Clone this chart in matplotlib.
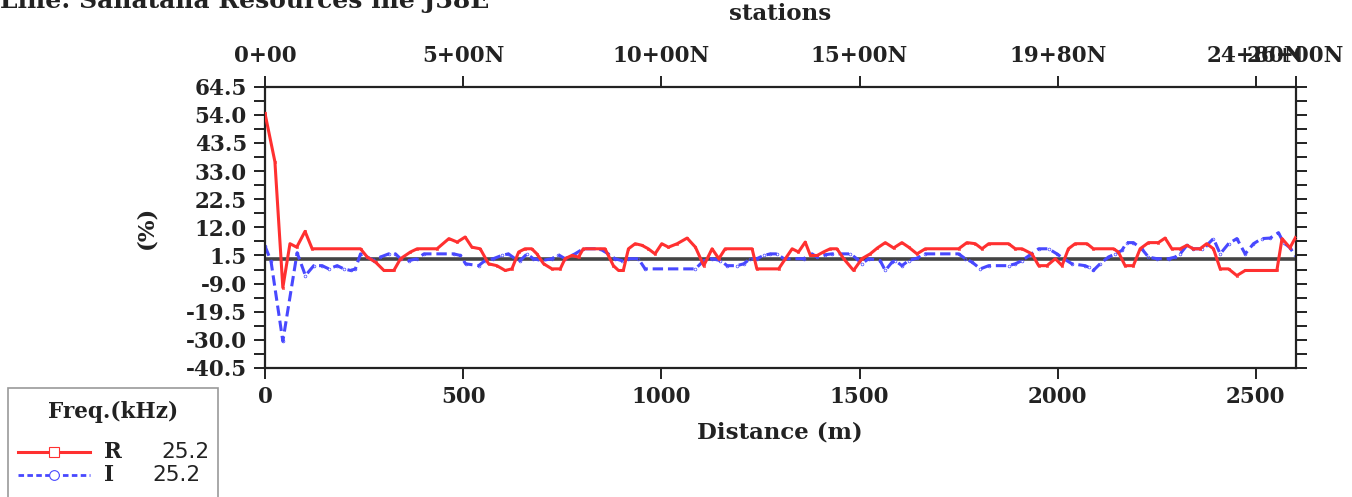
import numpy as np
import matplotlib
matplotlib.use("Agg")
import matplotlib.pyplot as plt
from matplotlib.lines import Line2D
from matplotlib.patches import Rectangle

plt.rcParams["font.family"] = "DejaVu Serif"
plt.rcParams["font.weight"] = "bold"
plt.rcParams["axes.labelweight"] = "bold"

# Survey line readings, 25.2 kHz
dist_r = [0, 25, 45, 63, 80, 101, 119, 241, 258, 279, 300, 325, 342, 367, 384, 434,
          464, 485, 505, 522, 543, 564, 585, 606, 623, 640, 656, 673, 686, 703, 724,
          745, 757, 774, 791, 803, 858, 879, 892, 904, 917, 934, 951, 967, 984, 1001,
          1018, 1040, 1065, 1086, 1107, 1128, 1145, 1161, 1229, 1241, 1296, 1313, 1330,
          1346, 1363, 1376, 1393, 1409, 1426, 1443, 1460, 1485, 1506, 1527, 1545, 1565,
          1586, 1607, 1624, 1645, 1666, 1750, 1771, 1792, 1809, 1826, 1876, 1893, 1910,
          1935, 1952, 1973, 1994, 2011, 2027, 2044, 2074, 2090, 2141, 2153, 2170, 2191,
          2208, 2229, 2254, 2271, 2288, 2309, 2326, 2342, 2359, 2376, 2393, 2410, 2431,
          2452, 2473, 2553, 2566, 2586, 2600]
real_r = [54.5, 36.5, -10.5, 5.9, 4.6, 10.5, 4.0, 4.0, 0.9, -1.0, -4.1, -4.1, 0.3, 2.8, 4.0, 4.0,
          7.8, 6.5, 8.4, 4.6, 4.0, -1.6, -2.3, -4.1, -3.5, 2.8, 4.0, 4.0, 2.1, -1.6, -3.5,
          -3.5, 0.3, 1.5, 0.9, 4.0, 4.0, -2.3, -4.1, -4.1, 4.0, 5.9, 5.3, 4.0, 2.1, 5.9,
          4.6, 5.9, 8.0, 4.6, -2.3, 4.0, 0.3, 4.0, 4.0, -3.5, -3.5, 0.3, 4.0,
          2.8, 6.5, 1.5, 1.5, 2.8, 4.0, 4.0, 0.3, -4.1, 0.3, 2.1, 4.3, 6.3,
          4.3, 6.3, 4.6, 2.1, 4.0, 4.0, 6.3, 5.9, 4.0, 5.9, 5.9, 4.0, 4.0,
          2.1, -2.3, -2.3, 0.3, -2.3, 4.0, 5.9, 5.9, 4.0, 4.0, 2.8, -2.3, -2.3,
          4.0, 6.3, 6.3, 8.0, 4.0, 4.0, 5.3, 4.0, 4.0, 5.9, 4.0, -3.5, -3.5,
          -6.0, -4.1, -4.1, 7.8, 4.4, 8.2]

dist_i = [0, 15, 45, 81, 102, 123, 144, 161, 182, 199, 216, 228, 241, 258, 275, 291, 312,
          329, 342, 363, 384, 401, 476, 493, 506, 539, 555, 576, 597, 614, 631, 644, 661,
          677, 698, 724, 740, 757, 782, 803, 845, 866, 883, 900, 917, 942, 959, 1086,
          1107, 1128, 1149, 1166, 1191, 1208, 1224, 1241, 1258, 1275, 1292, 1309, 1359,
          1380, 1393, 1414, 1430, 1477, 1493, 1506, 1523, 1552, 1565, 1582, 1590, 1607,
          1624, 1645, 1666, 1750, 1767, 1784, 1805, 1826, 1876, 1893, 1910, 1931, 1952,
          1977, 1998, 2015, 2036, 2069, 2078, 2090, 2107, 2128, 2145, 2162, 2174, 2191,
          2212, 2229, 2250, 2280, 2296, 2309, 2326, 2342, 2364, 2376, 2393, 2410, 2431,
          2452, 2473, 2494, 2515, 2536, 2557, 2570, 2586, 2600]
imag_i = [5.0, -0.5, -30.5, 2.5, -6.0, -2.3, -2.3, -3.5, -2.3, -3.5, -4.1, -3.5, 2.1, 0.9, -0.4, 0.9, 2.1,
          2.1, 0.3, -0.4, 0.3, 2.1, 2.1, 1.5, -1.6, -2.3, -0.4, 0.3, 1.5, 2.1, 0.3, -0.4, 2.1,
          0.3, -0.4, 0.3, 1.8, 0.3, 2.1, 4.0, 4.0, 2.1, 0.3, -0.4, 0.3, 0.3, -3.5, -3.5,
          -0.4, 0.3, -0.4, -2.3, -2.3, -1.6, 0.3, 0.3, 1.5, 2.1, 2.1, 0.3, 0.3,
          2.1, 0.9, 1.8, 2.1, 2.1, 0.3, -1.6, 0.3, -0.4, -4.1, -1.0, -0.4, -2.3,
          -0.4, 0.5, 2.1, 2.1, 0.3, -1.0, -3.5, -2.3, -2.3, -1.6, -0.4, 1.8, 4.0,
          4.0, 2.1, 0.3, -1.6, -2.3, -2.9, -4.1, -1.6, 0.9, 2.1, 3.4, 6.3, 6.3,
          4.0, 0.9, 0.3, 0.3, 0.9, 2.1, 5.3, 4.0, 4.0, 5.3, 7.8, 2.1, 5.9,
          7.8, 2.1, 5.9, 7.8, 8.0, 10.0, 6.3, 4.4, 1.3]

station_pos = [0, 500, 1000, 1500, 2000, 2500, 2600]
station_labels = ["0+00", "5+00N", "10+00N", "15+00N", "19+80N", "24+80N", "26+00N"]
dist_ticks = [0, 500, 1000, 1500, 2000, 2500]
pct_ticks = [64.5, 54.0, 43.5, 33.0, 22.5, 12.0, 1.5, -9.0, -19.5, -30.0, -40.5]
freq_khz = 25.2

W, H = 1352, 497
fig = plt.figure(figsize=(W / 100, H / 100), dpi=100)


def fx(x):
    return x / W


def fy(y):
    return 1 - y / H


ax = fig.add_axes([fx(265), fy(368), fx(1295.5) - fx(265), fy(86.7) - fy(368)])

red = "#ff3030"
blue = "#4848ff"
ink = "#222222"

ax.axhline(0, color="#444444", lw=2.6, zorder=1)
ax.plot(dist_i, imag_i, color=blue, lw=2.2, ls=(0, (3.4, 1.6)), marker="o", ms=2,
        mfc="none", mec=blue, mew=0.5, zorder=2)
ax.plot(dist_r, real_r, color=red, lw=2.2, marker="s", ms=2, mfc="none", mec=red,
        mew=0.5, zorder=3)

ax.set_xlim(0, 2600)
ax.set_ylim(-40.5, 64.5)
ax.set_xticks(dist_ticks)
ax.set_yticks(pct_ticks)
ax.set_yticklabels([f"{v:.1f}" for v in pct_ticks])
ax.set_yticks(np.arange(-40.5, 64.6, 5.25), minor=True)
ax.tick_params(axis="both", which="both", direction="out", length=8, width=1.4,
               color=ink, labelsize=15.5, labelcolor=ink, pad=5)
ax.tick_params(axis="y", which="both", right=True)
for sp in ax.spines.values():
    sp.set_linewidth(1.6)
    sp.set_color(ink)

ax.set_xlabel("Distance (m)", fontsize=16.5, color=ink)
ax.xaxis.set_label_coords(0.5, -0.19)
ax.set_ylabel("(%)", fontsize=16.5, color=ink)
ax.yaxis.set_label_coords(-0.104, 0.5)

top = ax.twiny()
top.set_xlim(ax.get_xlim())
top.set_xticks(station_pos)
top.set_xticklabels(station_labels)
top.tick_params(axis="x", direction="out", length=8, width=1.4, color=ink,
                labelsize=15.5, labelcolor=ink, pad=6)
for sp in top.spines.values():
    sp.set_visible(False)
top.set_xlabel("stations", fontsize=16.5, color=ink, labelpad=18)

fig.text(0.0, fy(1), "Line: Sanatana Resources lne J38E", fontsize=18, color=ink,
         ha="left", va="center")

# legend panel
fig.patches.append(Rectangle((fx(8), fy(499)), fx(218) - fx(8), fy(388) - fy(499),
                             transform=fig.transFigure, fill=True, fc="white",
                             ec="#999999", lw=1.2))
fig.text(fx(113), fy(412), "Freq.(kHz)", fontsize=15.5, color=ink, ha="center", va="center")
fig.lines.append(Line2D([fx(18), fx(90)], [fy(452), fy(452)], transform=fig.transFigure,
                        color=red, lw=2.2))
fig.lines.append(Line2D([fx(54)], [fy(452)], transform=fig.transFigure, marker="s",
                        ms=7, mfc="white", mec=red, mew=0.8, color=red))
fig.lines.append(Line2D([fx(18), fx(90)], [fy(475), fy(475)], transform=fig.transFigure,
                        color=blue, lw=2.0, ls=(0, (2.0, 1.2))))
fig.lines.append(Line2D([fx(54)], [fy(475)], transform=fig.transFigure, marker="o",
                        ms=7, mfc="white", mec=blue, mew=0.8, color=blue))
fig.text(fx(104), fy(452), "R", fontsize=15.5, color=ink, ha="left", va="center")
fig.text(fx(210), fy(452), f"{freq_khz}", fontsize=15.5, color=ink, ha="right",
         va="center", weight="normal", family="DejaVu Sans")
fig.text(fx(104), fy(475), "I", fontsize=15.5, color=ink, ha="left", va="center")
fig.text(fx(200), fy(475), f"{freq_khz}", fontsize=15.5, color=ink, ha="right",
         va="center", weight="normal", family="DejaVu Sans")

fig.savefig("out.png", dpi=100, facecolor="white")
